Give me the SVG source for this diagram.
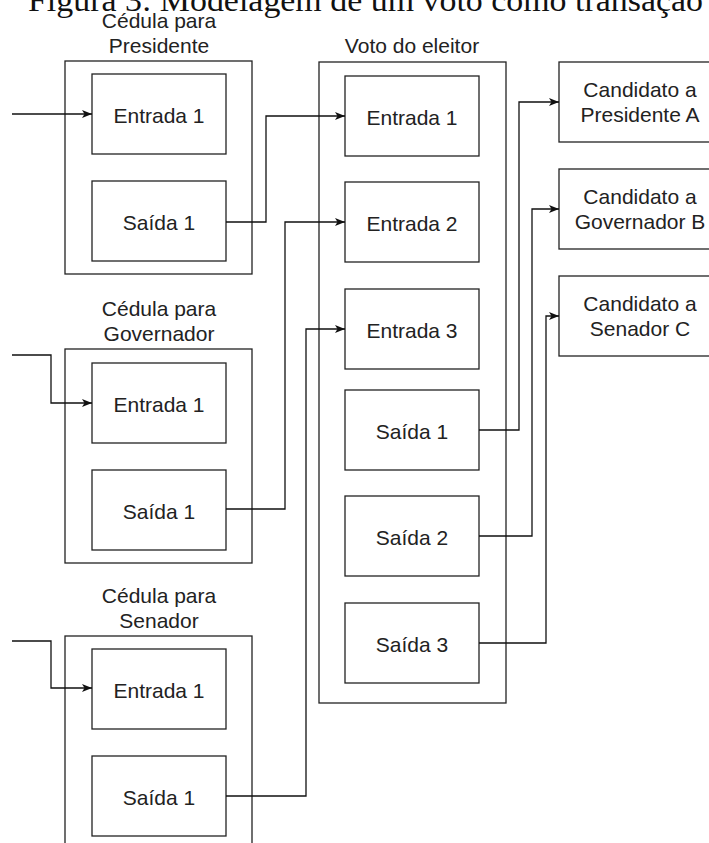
<svg xmlns="http://www.w3.org/2000/svg" width="709" height="843" viewBox="0 0 709 843">
<style>
.box{fill:#fff;stroke:#222;stroke-width:1.3}
.t{font-family:"Liberation Sans",Arial,sans-serif;font-size:21px;fill:#222;text-anchor:middle}
.title{font-family:"Liberation Serif","Times New Roman",serif;font-size:32px;fill:#111}
.c{fill:none;stroke:#111;stroke-width:1.3}
</style>
<defs>
<marker id="arr" viewBox="0 0 10 8" refX="10" refY="4" markerWidth="10" markerHeight="8" markerUnits="userSpaceOnUse" orient="auto">
<path d="M0,0 L10,4 L0,8 L2.5,4 z" fill="#111"/>
</marker>
</defs>
<rect width="709" height="843" fill="#fff"/>
<text class="title" x="28" y="11" textLength="675" lengthAdjust="spacingAndGlyphs">Figura 3: Modelagem de um voto como transação</text>

<g id="cedula-presidente">
<text class="t" x="159" y="28">Cédula para</text>
<text class="t" x="159" y="53">Presidente</text>
<rect class="box" x="65" y="61" width="187" height="213"/>
<g id="pres-entrada1"><rect class="box" x="92" y="74" width="134" height="80"/><text class="t" x="159" y="122.5">Entrada 1</text></g>
<g id="pres-saida1"><rect class="box" x="92" y="181" width="134" height="80"/><text class="t" x="159" y="229.5">Saída 1</text></g>
</g>

<g id="cedula-governador">
<text class="t" x="159" y="316">Cédula para</text>
<text class="t" x="159" y="341">Governador</text>
<rect class="box" x="65" y="349" width="187" height="214"/>
<g id="gov-entrada1"><rect class="box" x="92" y="363" width="134" height="80"/><text class="t" x="159" y="411.5">Entrada 1</text></g>
<g id="gov-saida1"><rect class="box" x="92" y="470" width="134" height="80"/><text class="t" x="159" y="518.5">Saída 1</text></g>
</g>

<g id="cedula-senador">
<text class="t" x="159" y="603">Cédula para</text>
<text class="t" x="159" y="628">Senador</text>
<rect class="box" x="65" y="636" width="187" height="220"/>
<g id="sen-entrada1"><rect class="box" x="92" y="649" width="134" height="80"/><text class="t" x="159" y="697.5">Entrada 1</text></g>
<g id="sen-saida1"><rect class="box" x="92" y="756" width="134" height="80"/><text class="t" x="159" y="804.5">Saída 1</text></g>
</g>

<g id="voto-eleitor">
<text class="t" x="412" y="53">Voto do eleitor</text>
<rect class="box" x="319" y="62" width="187" height="641"/>
<g id="voto-entrada1"><rect class="box" x="345" y="76" width="134" height="80"/><text class="t" x="412" y="124.5">Entrada 1</text></g>
<g id="voto-entrada2"><rect class="box" x="345" y="182" width="134" height="80"/><text class="t" x="412" y="230.5">Entrada 2</text></g>
<g id="voto-entrada3"><rect class="box" x="345" y="289" width="134" height="80"/><text class="t" x="412" y="337.5">Entrada 3</text></g>
<g id="voto-saida1"><rect class="box" x="345" y="390" width="134" height="80"/><text class="t" x="412" y="438.5">Saída 1</text></g>
<g id="voto-saida2"><rect class="box" x="345" y="496" width="134" height="80"/><text class="t" x="412" y="544.5">Saída 2</text></g>
<g id="voto-saida3"><rect class="box" x="345" y="603" width="134" height="80"/><text class="t" x="412" y="651.5">Saída 3</text></g>
</g>

<g id="cand-presidente-a">
<rect class="box" x="559" y="62" width="161" height="80"/>
<text class="t" x="640" y="96.5">Candidato a</text>
<text class="t" x="640" y="121.5">Presidente A</text>
</g>
<g id="cand-governador-b">
<rect class="box" x="559" y="169" width="161" height="80"/>
<text class="t" x="640" y="203.5">Candidato a</text>
<text class="t" x="640" y="228.5">Governador B</text>
</g>
<g id="cand-senador-c">
<rect class="box" x="559" y="276" width="161" height="80"/>
<text class="t" x="640" y="310.5">Candidato a</text>
<text class="t" x="640" y="335.5">Senador C</text>
</g>

<g id="connectors">
<path class="c" d="M12,114 H92" marker-end="url(#arr)"/>
<path class="c" d="M12,355 H51 V403 H92" marker-end="url(#arr)"/>
<path class="c" d="M12,641 H51 V688 H92" marker-end="url(#arr)"/>
<path class="c" d="M226,222 H266 V116 H345" marker-end="url(#arr)"/>
<path class="c" d="M226,509 H285 V222 H345" marker-end="url(#arr)"/>
<path class="c" d="M226,796 H306 V329 H345" marker-end="url(#arr)"/>
<path class="c" d="M479,430 H519 V102 H559" marker-end="url(#arr)"/>
<path class="c" d="M479,536 H532 V209 H559" marker-end="url(#arr)"/>
<path class="c" d="M479,643 H546 V316 H559" marker-end="url(#arr)"/>
</g>
</svg>
